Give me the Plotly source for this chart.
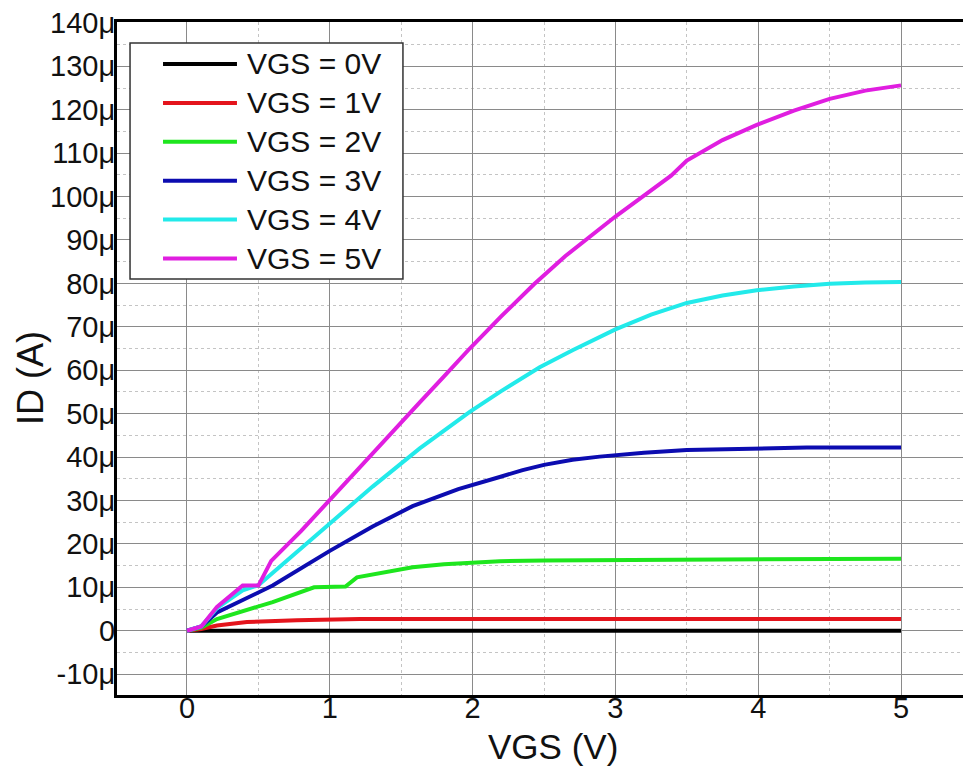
import plotly.graph_objects as go

# Drain current curves, ID in microamps, one sweep per gate bias
vds_0v = [0.0, 5.0]
id_0v = [0.0, 0.0]

vds_1v = [0.0, 0.1, 0.21, 0.42, 0.77, 1.19, 1.21, 5.0]
id_1v = [0.0, 0.4, 1.2, 2.0, 2.4, 2.5, 2.7, 2.7]

vds_2v = [0.0, 0.1, 0.21, 0.6, 0.89, 1.11, 1.19, 1.58, 1.8, 2.19, 2.5, 3.0, 4.0, 5.0]
id_2v = [0.0, 0.7, 2.7, 6.6, 10.0, 10.2, 12.3, 14.6, 15.3, 16.0, 16.2, 16.3, 16.5, 16.6]

vds_3v = [0.0, 0.1, 0.21, 0.6, 1.0, 1.3, 1.58, 1.9, 2.19, 2.35, 2.5, 2.7, 2.89, 3.2, 3.5, 4.0, 4.34, 5.0]
id_3v = [0.0, 1.0, 4.2, 10.4, 18.4, 24.0, 28.7, 32.6, 35.4, 37.0, 38.2, 39.4, 40.1, 41.0, 41.6, 41.9, 42.2, 42.2]

vds_4v = [0.0, 0.1, 0.21, 0.39, 0.5, 0.63, 1.0, 1.3, 1.63, 1.98, 2.2, 2.47, 2.7, 2.89, 3.0,
          3.25, 3.5, 3.75, 3.99, 4.25, 4.5, 4.75, 5.0]
id_4v = [0.0, 1.0, 5.2, 9.3, 10.5, 14.2, 24.5, 33.2, 42.0, 50.4, 55.2, 60.7, 64.6, 67.6, 69.4,
         72.8, 75.5, 77.2, 78.4, 79.3, 79.9, 80.2, 80.3]

vds_5v = [0.0, 0.1, 0.21, 0.39, 0.5, 0.59, 0.8, 1.0, 1.15, 1.33, 1.63, 1.8, 1.98, 2.2, 2.43,
          2.65, 2.89, 3.0, 3.2, 3.39, 3.5, 3.75, 3.99, 4.25, 4.5, 4.75, 5.0]
id_5v = [0.0, 1.0, 5.5, 10.4, 10.4, 16.1, 23.0, 30.2, 35.6, 42.0, 52.6, 58.6, 65.0, 72.4, 79.8,
         86.3, 92.7, 95.4, 100.2, 104.8, 108.3, 113.0, 116.5, 119.8, 122.5, 124.4, 125.6]

series_names = ["VGS = 0V", "VGS = 1V", "VGS = 2V", "VGS = 3V", "VGS = 4V", "VGS = 5V"]
series_colors = ["#000000", "#e4141c", "#1ee61e", "#0c0cb0", "#22eaea", "#e01ee0"]

x_tick_vals = [0, 1, 2, 3, 4, 5]
x_tick_text = ["0", "1", "2", "3", "4", "5"]
y_tick_vals = [-10, 0, 10, 20, 30, 40, 50, 60, 70, 80, 90, 100, 110, 120, 130, 140]
y_tick_text = ["-10μ", "0", "10μ", "20μ", "30μ", "40μ", "50μ", "60μ", "70μ",
               "80μ", "90μ", "100μ", "110μ", "120μ", "130μ", "140μ"]

FONT = "Liberation Sans, Arial, sans-serif"

xs = [vds_0v, vds_1v, vds_2v, vds_3v, vds_4v, vds_5v]
ys = [id_0v, id_1v, id_2v, id_3v, id_4v, id_5v]

fig = go.Figure()
for x, y, name, color in zip(xs, ys, series_names, series_colors):
    fig.add_trace(go.Scatter(x=x, y=y, mode="lines", name=name,
                             line=dict(color=color, width=4),
                             showlegend=False))

# Boxed legend with long line samples, placed in the upper-left corner
L_X0, L_X1, L_Y0, L_Y1 = 0.0154, 0.338, 0.618, 0.9688
row_top, row_step = 0.9376, 0.0578
shapes = [dict(type="rect", xref="paper", yref="paper",
               x0=L_X0, x1=L_X1, y0=L_Y0, y1=L_Y1,
               line=dict(color="#333333", width=1.5), fillcolor="white", layer="above")]
annotations = []
for i, (name, color) in enumerate(zip(series_names, series_colors)):
    yy = row_top - i * row_step
    shapes.append(dict(type="line", xref="paper", yref="paper",
                       x0=0.0544, x1=0.1418, y0=yy, y1=yy,
                       line=dict(color=color, width=4), layer="above"))
    annotations.append(dict(text=name, xref="paper", yref="paper",
                            x=0.151, y=yy, xanchor="left", yanchor="middle",
                            showarrow=False, font=dict(family=FONT, size=30, color="#111111")))

annotations.append(dict(text="ID (A)", xref="paper", yref="paper", x=-0.103, y=0.471,
                        textangle=-90, xanchor="center", yanchor="middle", showarrow=False,
                        font=dict(family=FONT, size=36, color="#111111")))
annotations.append(dict(text="VGS (V)", xref="paper", yref="paper", x=0.515, y=-0.0758,
                        xanchor="center", yanchor="middle", showarrow=False,
                        font=dict(family=FONT, size=35, color="#111111")))

fig.update_layout(
    width=963, height=772,
    margin=dict(l=117, r=0, t=22, b=77),
    paper_bgcolor="white", plot_bgcolor="white",
    font=dict(family=FONT, size=29, color="#111111"),
    shapes=shapes, annotations=annotations,
)

fig.update_xaxes(
    range=[-0.49, 5.434],
    tickvals=x_tick_vals, ticktext=x_tick_text,
    showgrid=True, gridcolor="#8a8a8a", gridwidth=1,
    minor=dict(dtick=0.5, showgrid=True, gridcolor="#c4c4c4", griddash="3px,3px", gridwidth=1),
    zeroline=False,
    showline=True, linecolor="black", linewidth=3, mirror=True,
    ticks="", ticklabelstandoff=-15,
    tickfont=dict(family=FONT, size=29, color="#111111"),
)
fig.update_yaxes(
    range=[-14.8, 140.2],
    tickvals=y_tick_vals, ticktext=y_tick_text,
    showgrid=True, gridcolor="#8a8a8a", gridwidth=1,
    minor=dict(dtick=5, showgrid=True, gridcolor="#c4c4c4", griddash="3px,3px", gridwidth=1),
    zeroline=False,
    showline=True, linecolor="black", linewidth=3, mirror=False,
    ticks="", ticklabelstandoff=-7,
    tickfont=dict(family=FONT, size=29, color="#111111"),
)

fig.write_html("out.html")
